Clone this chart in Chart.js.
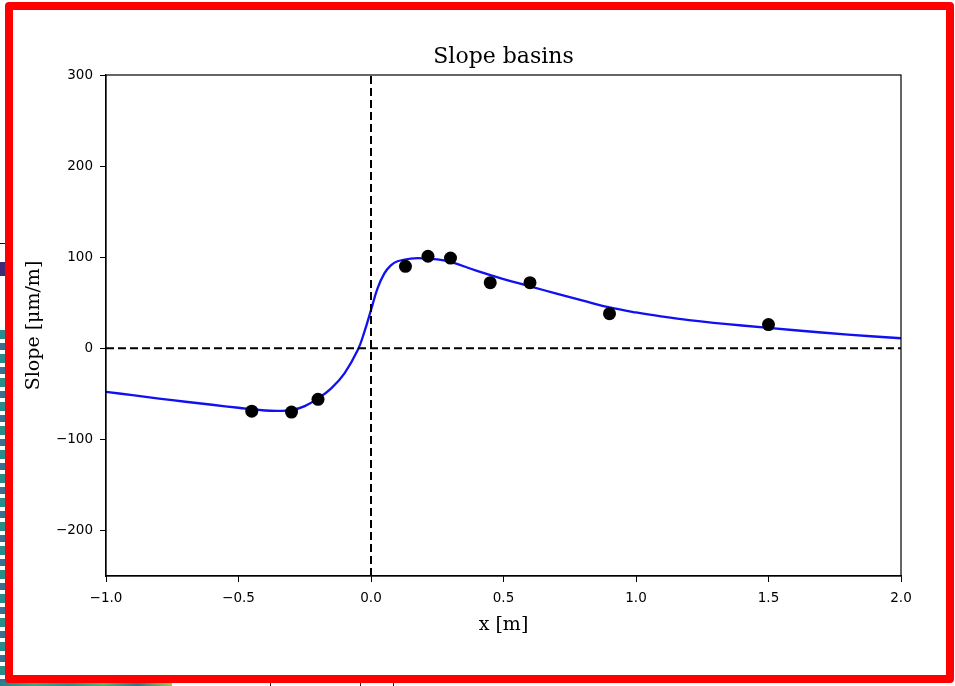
<!doctype html>
<html lang="en">
<head>
  <meta charset="utf-8" />
  <script src="https://cdn.jsdelivr.net/npm/chart.js@4/dist/chart.umd.min.js"></script>
  <style>
    html, body {
      margin: 0;
      padding: 0;
      width: 955px;
      height: 686px;
      overflow: hidden;
      background: #ffffff;
    }
    .behind-left {
      position: absolute;
      left: 0;
      top: 330px;
      width: 6px;
      height: 356px;
      background: repeating-linear-gradient(180deg, #2a8c8a 0px, #2a8c8a 9px, #ffffff 9px, #ffffff 13px, #3d6f94 13px, #3d6f94 20px, #ffffff 20px, #ffffff 24px);
    }
    .behind-purple {
      position: absolute;
      left: 0;
      top: 262px;
      width: 6px;
      height: 14px;
      background: #3f2a78;
    }
    .behind-line {
      position: absolute;
      left: 0;
      top: 243px;
      width: 8px;
      height: 1px;
      background: #111;
    }
    .behind-bottom {
      position: absolute;
      left: 0;
      top: 682px;
      width: 172px;
      height: 4px;
      background: linear-gradient(90deg, #2c7f8e, #3aa87f, #2b8c8b, #4cb96f, #2a788e, #8fd14f);
    }
    .behind-tick {
      position: absolute;
      top: 682px;
      width: 1px;
      height: 4px;
      background: #222;
    }
    .frame {
      position: absolute;
      left: 5px;
      top: 2px;
      width: 933px;
      height: 665px;
      border: 8px solid #ff0000;
      border-radius: 4px;
      background: #ffffff;
    }
    .wrap {
      position: absolute;
      left: 0;
      top: 0;
      width: 955px;
      height: 686px;
    }
  </style>
</head>
<body>
  <div class="behind-line"></div>
  <div class="behind-purple"></div>
  <div class="behind-left"></div>
  <div class="behind-bottom"></div>
  <div class="behind-tick" style="left:270px"></div>
  <div class="behind-tick" style="left:360px"></div>
  <div class="behind-tick" style="left:393px"></div>
  <div class="frame"></div>
  <div class="wrap">
    <canvas id="chart"></canvas>
  </div>
  <script>
    // measured points
    const pointX = [-0.45, -0.30, -0.20, 0.13, 0.215, 0.30, 0.45, 0.60, 0.90, 1.50];
    const pointY = [-69, -70, -56, 90, 101, 99, 72, 72, 38, 26];

    // fitted curve
    const curveX = [-1.0, -0.9, -0.8, -0.7, -0.6, -0.5, -0.4, -0.35, -0.3, -0.25, -0.2, -0.15, -0.1,
      -0.05, -0.025, 0.0, 0.025, 0.05, 0.075, 0.1, 0.15, 0.2, 0.25, 0.3, 0.4, 0.5, 0.6, 0.7, 0.8,
      0.9, 1.0, 1.1, 1.2, 1.4, 1.6, 1.8, 2.0];
    const curveY = [-47.8, -51.5, -55.2, -58.7, -62.0, -65.3, -68.3, -68.8, -68.0, -63.5, -55, -44, -27.5,
      -2, 18, 42, 66, 82, 91, 95.5, 98.5, 98.7, 97.5, 94.8, 85, 76, 68, 60, 52.3,
      44.8, 39.3, 34.8, 31, 25, 19.8, 15, 11];

    // dashed reference lines
    const zeroLineX = [-1.0, 2.0];
    const zeroLineY = [0, 0];
    const axisLineX = [0, 0];
    const axisLineY = [-250, 300];

    const xTicks = [-1.0, -0.5, 0.0, 0.5, 1.0, 1.5, 2.0];
    const yTicks = [-200, -100, 0, 100, 200, 300];

    const toXY = (xs, ys) => xs.map((x, i) => ({ x, y: ys[i] }));
    const minus = s => String(s).replace('-', '\u2212');

    const frame = {
      id: 'frame',
      afterDatasetsDraw(chart) {
        const { ctx, chartArea } = chart;
        ctx.save();
        ctx.strokeStyle = '#000';
        ctx.lineWidth = 1.2;
        ctx.strokeRect(chartArea.left, chartArea.top, chartArea.right - chartArea.left, chartArea.bottom - chartArea.top);
        ctx.restore();
      },
    };

    const tickFont = { family: 'DejaVu Sans', size: 13.5 };
    const serif = 'DejaVu Serif';

    new Chart(document.getElementById('chart'), {
      type: 'scatter',
      data: {
        datasets: [
          {
            data: toXY(pointX, pointY),
            backgroundColor: '#000',
            borderWidth: 0,
            pointRadius: 6.5,
            order: 0,
          },
          {
            type: 'line',
            data: toXY(axisLineX, axisLineY),
            borderColor: '#000',
            borderWidth: 2,
            borderDash: [8, 4],
            pointRadius: 0,
            order: 1,
          },
          {
            type: 'line',
            data: toXY(zeroLineX, zeroLineY),
            borderColor: '#000',
            borderWidth: 2,
            borderDash: [8, 4],
            pointRadius: 0,
            order: 1,
          },
          {
            type: 'line',
            data: toXY(curveX, curveY),
            borderColor: '#1010f0',
            borderWidth: 2.3,
            pointRadius: 0,
            tension: 0.4,
            order: 2,
          },
        ],
      },
      options: {
        responsive: true,
        maintainAspectRatio: false,
        animation: false,
        layout: { padding: { left: 18, right: 54, top: 44, bottom: 50 } },
        plugins: {
          legend: { display: false },
          tooltip: { enabled: false },
          title: {
            display: true,
            fullSize: false,
            text: 'Slope basins',
            color: '#000',
            font: { family: serif, size: 22, weight: 'normal' },
            padding: { top: 0, bottom: 4.6 },
          },
        },
        scales: {
          x: {
            type: 'linear',
            min: -1.0,
            max: 2.0,
            afterFit(scale) { scale.height = 60; },
            afterBuildTicks(scale) { scale.ticks = xTicks.map(value => ({ value })); },
            ticks: {
              color: '#000',
              font: tickFont,
              padding: 8,
              callback: v => minus(Number(v).toFixed(1)),
            },
            grid: { drawOnChartArea: false, drawTicks: true, tickLength: 6, tickColor: '#000' },
            border: { display: true, color: '#000', width: 1.2 },
            title: {
              display: true,
              text: 'x [m]',
              color: '#000',
              font: { family: serif, size: 19 },
              padding: { top: 0, bottom: 0 },
            },
          },
          y: {
            type: 'linear',
            min: -250,
            max: 300,
            afterFit(scale) { scale.width = 88; },
            afterBuildTicks(scale) { scale.ticks = yTicks.map(value => ({ value })); },
            ticks: {
              color: '#000',
              font: tickFont,
              padding: 7,
              callback: v => minus(v),
            },
            grid: { drawOnChartArea: false, drawTicks: true, tickLength: 6, tickColor: '#000' },
            border: { display: true, color: '#000', width: 1.2 },
            title: {
              display: true,
              text: 'Slope [\u03bcm/m]',
              color: '#000',
              font: { family: serif, size: 19 },
              padding: { top: 5, bottom: 0 },
            },
          },
        },
      },
      plugins: [frame],
    });
  </script>
</body>
</html>
